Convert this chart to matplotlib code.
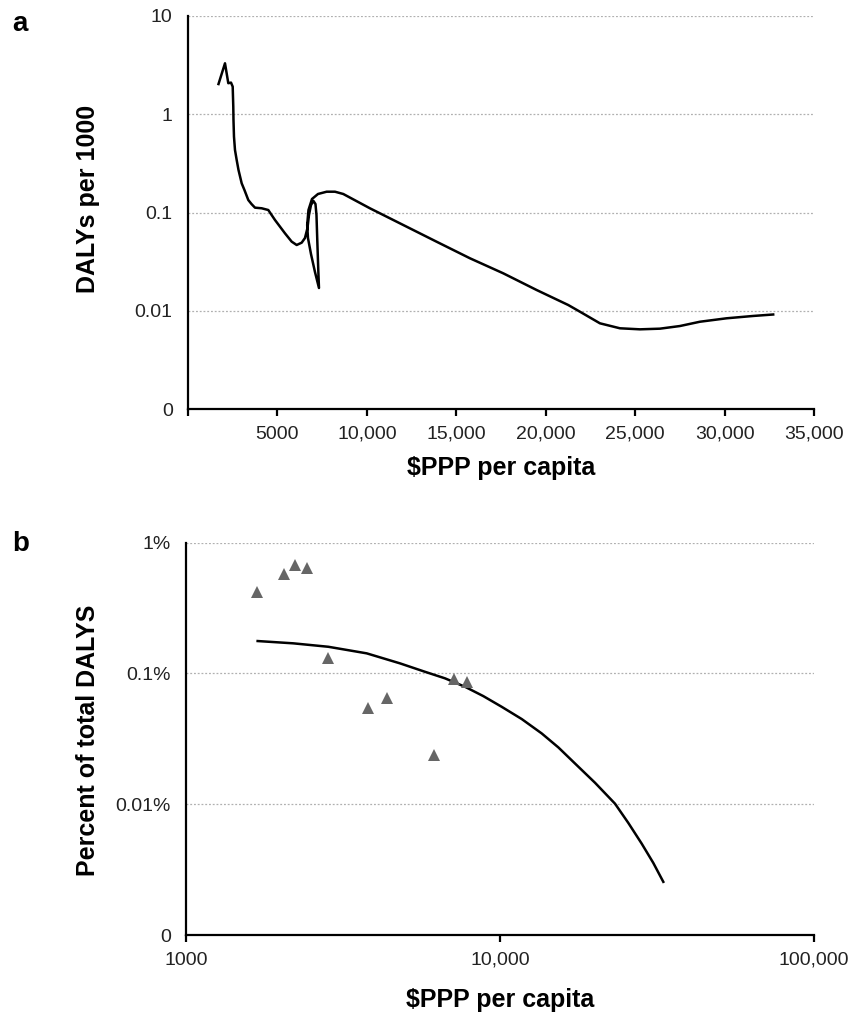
import numpy as np
import matplotlib.pyplot as plt
from matplotlib.ticker import NullLocator

plt.rcParams['font.family'] = ['Liberation Sans', 'DejaVu Sans']

# panel a: DALYs per 1000 against income (smoothed series, in plotting order)
gdp_a = [1705, 2068, 2253, 2404, 2499, 2532, 2543, 2571, 2627, 2722, 2823, 3002,
         3158, 3371, 3550, 3745, 4120, 4489, 4863, 5422, 5797, 6076, 6356, 6540,
         6680, 6764, 6876, 7015, 7127, 7183, 7228, 7284, 7323, 7099, 6876, 6708,
         6663, 6736, 6932, 7267, 7753, 8217, 8681, 10174, 12035, 13902, 15764,
         17625, 19492, 21259, 21913, 23031, 24149, 25267, 26385, 27503, 28621,
         30113, 31600, 32718]
dalys_a = [2.03, 3.30, 2.07, 2.10, 1.91, 1.19, 0.874, 0.591, 0.433, 0.342, 0.271,
           0.198, 0.169, 0.134, 0.122, 0.112, 0.1104, 0.106, 0.0839, 0.0614, 0.0505,
           0.0467, 0.0493, 0.055, 0.0695, 0.0943, 0.1192, 0.131, 0.122, 0.0943,
           0.0525, 0.026, 0.01704, 0.0248, 0.0378, 0.055, 0.0746, 0.106, 0.1372,
           0.1543, 0.1628, 0.1628, 0.1543, 0.1103, 0.0746, 0.0504, 0.0342, 0.02405,
           0.01626, 0.01144, 0.00978, 0.00745, 0.00663, 0.00647, 0.00657, 0.00699,
           0.00773, 0.00838, 0.00885, 0.00916]
a_xticks = [0, 5000, 10000, 15000, 20000, 25000, 30000, 35000]
a_xlabels = ['', '5000', '10,000', '15,000', '20,000', '25,000', '30,000', '35,000']
a_yticks = [0.001, 0.01, 0.1, 1, 10]
a_ylabels = ['0', '0.01', '0.1', '1', '10']

# panel b: share of total DALYs, country points and trend
gdp_pts = [1680, 2056, 2224, 2434, 2840, 3807, 4357, 6164, 7152, 7868]
share_pts = [0.422, 0.576, 0.675, 0.644, 0.1305, 0.0541, 0.0645, 0.0240, 0.0901, 0.0855]
gdp_trend = [1691, 2196, 2840, 3763, 4802, 5770, 6680, 7737, 8850, 10125, 11730,
             13575, 15340, 17330, 20070, 23240, 25620, 28260, 30770, 33120]
share_trend = [0.177, 0.170, 0.160, 0.1425, 0.1195, 0.103, 0.0918, 0.0791, 0.0671,
               0.0556, 0.0448, 0.0348, 0.0272, 0.0205, 0.0146, 0.0101, 0.0072,
               0.0050, 0.00356, 0.00255]
b_xticks = [1000, 10000, 100000]
b_xlabels = ['1000', '10,000', '100,000']
b_yticks = [0.001, 0.01, 0.1, 1]
b_ylabels = ['0', '0.01%', '0.1%', '1%']

W, H = 851, 1014
fig = plt.figure(figsize=(W / 100, H / 100), dpi=100)
ax_a = fig.add_axes([188 / W, 1 - 409 / H, 626 / W, 393 / H])
ax_b = fig.add_axes([186 / W, 1 - 935 / H, 628 / W, 392.3 / H])

tick_color = '#222222'


def style(ax):
    for side in ('top', 'right'):
        ax.spines[side].set_visible(False)
    for side in ('left', 'bottom'):
        ax.spines[side].set_linewidth(1.6)
        ax.spines[side].set_zorder(5)
    ax.set_yscale('log')
    ax.yaxis.set_minor_locator(NullLocator())
    ax.xaxis.set_minor_locator(NullLocator())
    ax.yaxis.grid(True, linestyle=(0, (1.5, 1.5)), color='#b0b0b0', linewidth=0.9)
    ax.set_axisbelow(True)
    ax.tick_params(axis='y', length=0, pad=11, labelsize=14, labelcolor=tick_color)
    ax.tick_params(axis='x', length=5, width=1.6, direction='out', pad=7,
                   labelsize=14, labelcolor=tick_color)


style(ax_a)
ax_a.plot(gdp_a, dalys_a, color='black', linewidth=1.8, solid_joinstyle='round')
ax_a.set_xlim(0, 35000)
ax_a.set_ylim(0.001, 10)
ax_a.set_xticks(a_xticks)
ax_a.set_xticklabels(a_xlabels)
ax_a.set_yticks(a_yticks)
ax_a.set_yticklabels(a_ylabels)
ax_a.set_xlabel('$PPP per capita', fontsize=18, fontweight='bold', va='center')
ax_a.xaxis.set_label_coords(0.5, -0.150)
ax_a.set_ylabel('DALYs per 1000', fontsize=18, fontweight='bold', va='center')
ax_a.yaxis.set_label_coords(-0.16, 0.534)

style(ax_b)
ax_b.set_xscale('log')
ax_b.xaxis.set_minor_locator(NullLocator())
ax_b.plot(gdp_trend, share_trend, color='black', linewidth=1.8)
ax_b.plot(gdp_pts, share_pts, linestyle='none', marker='^', markersize=9,
          color='#666666', markeredgewidth=0)
ax_b.set_xlim(1000, 100000)
ax_b.set_ylim(0.001, 1)
ax_b.set_xticks(b_xticks)
ax_b.set_xticklabels(b_xlabels)
ax_b.set_yticks(b_yticks)
ax_b.set_yticklabels(b_ylabels)
ax_b.set_xlabel('$PPP per capita', fontsize=18, fontweight='bold', va='center')
ax_b.xaxis.set_label_coords(0.5, -0.166)
ax_b.set_ylabel('Percent of total DALYS', fontsize=18, fontweight='bold', va='center')
ax_b.yaxis.set_label_coords(-0.156, 0.496)

fig.text(20 / W, 1 - 24 / H, 'a', fontsize=20, fontweight='bold', ha='center', va='center')
fig.text(21 / W, 1 - 544 / H, 'b', fontsize=20, fontweight='bold', ha='center', va='center')

fig.savefig('out.png', dpi=100)
